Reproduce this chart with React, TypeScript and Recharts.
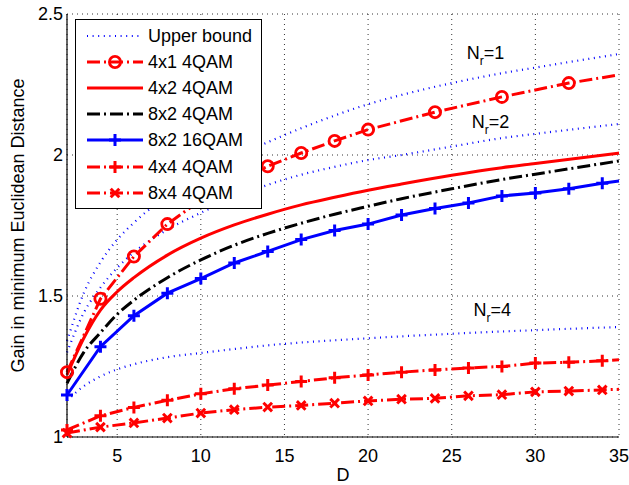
import React from 'react';
import { LineChart, Line, XAxis, YAxis, CartesianGrid, Legend, ReferenceDot } from 'recharts';

// ---------- data ----------
const X_TICKS = [5, 10, 15, 20, 25, 30, 35];
const Y_TICKS = [1, 1.5, 2, 2.5];
const X_DOMAIN: [number, number] = [2, 35];
const Y_DOMAIN: [number, number] = [1, 2.5];
const D_END = 35;

// smooth curves (no markers)
const D_SMOOTH = [2, 3, 4, 5, 6, 8, 10, 12, 14, 16, 18, 20, 22, 25, 28, 30, 35];
const UB_NR1 = [1.34, 1.51, 1.62, 1.70, 1.76, 1.855, 1.93, 1.99, 2.045, 2.095, 2.14, 2.18, 2.213, 2.255, 2.29, 2.31, 2.358];
const UB_NR2 = [1.30, 1.44, 1.53, 1.60, 1.655, 1.735, 1.795, 1.848, 1.894, 1.93, 1.958, 1.982, 2.0, 2.03, 2.06, 2.075, 2.11];
const UB_NR4 = [1.13, 1.18, 1.215, 1.24, 1.258, 1.283, 1.298, 1.312, 1.325, 1.335, 1.343, 1.35, 1.357, 1.366, 1.374, 1.379, 1.39];
const G_4X2_4QAM = [1.22, 1.35, 1.45, 1.515, 1.565, 1.645, 1.705, 1.752, 1.79, 1.823, 1.85, 1.875, 1.897, 1.928, 1.955, 1.97, 2.007];
const G_8X2_4QAM = [1.19, 1.30, 1.37, 1.435, 1.485, 1.565, 1.628, 1.68, 1.722, 1.758, 1.79, 1.818, 1.845, 1.88, 1.913, 1.932, 1.979];

// 4x1 4QAM (circles)
const D_4X1 = [2, 4, 6, 8, 10, 12, 14, 16, 18, 20, 24, 28, 32, 35];
const G_4X1_4QAM = [1.23, 1.49, 1.64, 1.755, 1.84, 1.905, 1.96, 2.007, 2.05, 2.09, 2.152, 2.206, 2.255, 2.284];

// even-D series
const D_EVEN = [2, 4, 6, 8, 10, 12, 14, 16, 18, 20, 22, 24, 26, 28, 30, 32, 34, 35];
const G_8X2_16QAM = [1.149, 1.32, 1.43, 1.51, 1.562, 1.617, 1.658, 1.70, 1.732, 1.755, 1.787, 1.81, 1.83, 1.855, 1.865, 1.88, 1.90, 1.908];
const G_4X4_4QAM = [1.025, 1.075, 1.105, 1.13, 1.153, 1.171, 1.184, 1.197, 1.21, 1.22, 1.23, 1.238, 1.245, 1.25, 1.262, 1.265, 1.27, 1.274];
const G_8X4_4QAM = [1.014, 1.035, 1.05, 1.067, 1.085, 1.097, 1.106, 1.112, 1.12, 1.128, 1.134, 1.137, 1.146, 1.15, 1.16, 1.163, 1.167, 1.169];

// annotations
const NR_TEXT = ['1', '2', '4'];
const NR_D = [25.9, 26.2, 26.3];
const NR_G = [2.34, 2.096, 1.429];

const LEGEND_NAMES = ['Upper bound', '4x1 4QAM', '4x2 4QAM', '8x2 4QAM', '8x2 16QAM', '4x4 4QAM', '8x4 4QAM'];

// ---------- helpers ----------
const rows = (ds: number[], vs: number[]) => ds.map((D, i) => ({ D, g: vs[i] }));

const RED = '#ff0000';
const BLUE = '#0000ff';
const BLACK = '#000000';
const DOTTED = '1 4.6';
const DASHDOT = '13 4 2 4';

type Kind = 'none' | 'circle' | 'plus' | 'cross';
interface Style { color: string; width: number; dash?: string; marker: Kind }

const STYLES: Record<string, Style> = {
  'Upper bound': { color: BLUE, width: 2.2, dash: DOTTED, marker: 'none' },
  '4x1 4QAM': { color: RED, width: 3, dash: DASHDOT, marker: 'circle' },
  '4x2 4QAM': { color: RED, width: 3, marker: 'none' },
  '8x2 4QAM': { color: BLACK, width: 3, dash: DASHDOT, marker: 'none' },
  '8x2 16QAM': { color: BLUE, width: 3, marker: 'plus' },
  '4x4 4QAM': { color: RED, width: 3, dash: DASHDOT, marker: 'plus' },
  '8x4 4QAM': { color: RED, width: 3, dash: DASHDOT, marker: 'cross' },
};

function Marker({ kind, cx, cy, color }: { kind: Kind; cx: number; cy: number; color: string }) {
  if (kind === 'circle') {
    return <circle cx={cx} cy={cy} r={5.6} fill="none" stroke={color} strokeWidth={2.8} />;
  }
  if (kind === 'plus') {
    const a = 6;
    return (
      <path d={`M${cx - a},${cy}H${cx + a}M${cx},${cy - a}V${cy + a}`} stroke={color} strokeWidth={3} fill="none" />
    );
  }
  if (kind === 'cross') {
    const a = 4.3;
    return (
      <path d={`M${cx - a},${cy - a}L${cx + a},${cy + a}M${cx - a},${cy + a}L${cx + a},${cy - a}`} stroke={color} strokeWidth={3} fill="none" />
    );
  }
  return null;
}

const makeDot = (name: string) => (p: any) => {
  const st = STYLES[name];
  const k = `${name}-${p.index}`;
  if (st.marker === 'none' || p.cx == null || p.payload?.D === D_END) return <g key={k} />;
  return (
    <g key={k}>
      <Marker kind={st.marker} cx={p.cx} cy={p.cy} color={st.color} />
    </g>
  );
};

function NrText(props: any) {
  const vb = props.viewBox || {};
  const x = vb.x ?? 0;
  const y = vb.y ?? 0;
  return (
    <text x={x} y={y} fontSize={18} fill="#000" fontFamily='"Liberation Sans", Arial, sans-serif'>
      N
      <tspan fontSize={12} dy={6}>r</tspan>
      <tspan dy={-6}>={props.n}</tspan>
    </text>
  );
}

function LegendBox() {
  return (
    <div
      style={{
        boxSizing: 'border-box',
        width: 187,
        height: 190,
        border: '1px solid #000',
        background: '#fff',
        paddingTop: 3,
        fontFamily: '"Liberation Sans", Arial, sans-serif',
      }}
    >
      {LEGEND_NAMES.map((name) => {
        const st = STYLES[name];
        return (
          <div key={name} style={{ display: 'flex', alignItems: 'center', height: 26.1 }}>
            <svg width={68} height={26} style={{ display: 'block', flex: 'none' }}>
              <line x1={11} y1={13} x2={67} y2={13} stroke={st.color} strokeWidth={st.width} strokeDasharray={st.dash} />
              <Marker kind={st.marker} cx={39} cy={13} color={st.color} />
            </svg>
            <span style={{ fontSize: 18, marginLeft: 4, color: '#000', whiteSpace: 'nowrap', lineHeight: '26px' }}>{name}</span>
          </div>
        );
      })}
    </div>
  );
}

const SERIES: { name: string; data: { D: number; g: number }[]; legend: boolean; smooth: boolean }[] = [
  { name: 'Upper bound', data: rows(D_SMOOTH, UB_NR1), legend: true, smooth: true },
  { name: 'Upper bound', data: rows(D_SMOOTH, UB_NR2), legend: false, smooth: true },
  { name: 'Upper bound', data: rows(D_SMOOTH, UB_NR4), legend: false, smooth: true },
  { name: '8x4 4QAM', data: rows(D_EVEN, G_8X4_4QAM), legend: true, smooth: false },
  { name: '4x4 4QAM', data: rows(D_EVEN, G_4X4_4QAM), legend: true, smooth: false },
  { name: '8x2 16QAM', data: rows(D_EVEN, G_8X2_16QAM), legend: true, smooth: false },
  { name: '8x2 4QAM', data: rows(D_SMOOTH, G_8X2_4QAM), legend: true, smooth: true },
  { name: '4x2 4QAM', data: rows(D_SMOOTH, G_4X2_4QAM), legend: true, smooth: true },
  { name: '4x1 4QAM', data: rows(D_4X1, G_4X1_4QAM), legend: true, smooth: false },
];

const FONT = '"Liberation Sans", Arial, Helvetica, sans-serif';

export default function App() {
  return (
    <div style={{ position: 'absolute', left: 0, top: 0, width: 629, height: 485, background: '#fff', fontFamily: FONT }}>
      <LineChart width={629} height={485} margin={{ top: 14, right: 10, bottom: 0, left: 0 }}>
        <CartesianGrid stroke="#000" strokeWidth={0.8} strokeDasharray="1 4" />
        <XAxis
          dataKey="D"
          type="number"
          domain={X_DOMAIN}
          ticks={X_TICKS}
          height={48}
          tickLine={false}
          tickSize={0}
          tickMargin={12}
          axisLine={{ stroke: '#000', strokeWidth: 1.2 }}
          tick={{ fill: '#000', fontSize: 18 }}
          label={{ value: 'D', position: 'insideBottom', offset: 4, style: { fontSize: 18, fill: '#000' } }}
        />
        <XAxis xAxisId="bm" type="number" domain={X_DOMAIN} ticks={X_TICKS} orientation="bottom" mirror height={0}
          tick={false} tickSize={6} tickLine={{ stroke: '#000' }} axisLine={false} />
        <XAxis xAxisId="top" type="number" domain={X_DOMAIN} ticks={X_TICKS} orientation="top" mirror height={0}
          tick={false} tickSize={6} tickLine={{ stroke: '#000' }} axisLine={{ stroke: '#000', strokeWidth: 1.2 }} />
        <YAxis
          type="number"
          domain={Y_DOMAIN}
          ticks={Y_TICKS}
          width={67}
          tickLine={false}
          tickSize={0}
          tickMargin={4}
          axisLine={{ stroke: '#000', strokeWidth: 1.2 }}
          tick={{ fill: '#000', fontSize: 18 }}
          label={{
            value: 'Gain in minimum Euclidean Distance',
            angle: -90,
            position: 'insideLeft',
            offset: 18,
            style: { textAnchor: 'middle', fontSize: 18, fill: '#000' },
          }}
        />
        <YAxis yAxisId="lm" type="number" domain={Y_DOMAIN} ticks={Y_TICKS} orientation="left" mirror width={0}
          tick={false} tickSize={6} tickLine={{ stroke: '#000' }} axisLine={false} />
        <YAxis yAxisId="rm" type="number" domain={Y_DOMAIN} ticks={Y_TICKS} orientation="right" mirror width={0}
          tick={false} tickSize={6} tickLine={{ stroke: '#000' }} axisLine={{ stroke: '#000', strokeWidth: 1.2 }} />

        {SERIES.map((s, i) => {
          const st = STYLES[s.name];
          return (
            <Line
              key={`${s.name}-${i}`}
              data={s.data}
              dataKey="g"
              name={s.name}
              type={s.smooth ? 'monotone' : 'linear'}
              stroke={st.color}
              strokeWidth={st.width}
              strokeDasharray={st.dash}
              dot={makeDot(s.name)}
              activeDot={false}
              legendType={s.legend ? 'line' : 'none'}
              isAnimationActive={false}
            />
          );
        })}

        {NR_TEXT.map((n, i) => (
          <ReferenceDot key={n} x={NR_D[i]} y={NR_G[i]} r={0} fill="none" stroke="none" label={<NrText n={n} />} />
        ))}

        <Legend
          layout="vertical"
          align="center"
          verticalAlign="middle"
          wrapperStyle={{ left: 75, top: 19, width: 187, height: 190 }}
          content={() => <LegendBox />}
        />
      </LineChart>
    </div>
  );
}
